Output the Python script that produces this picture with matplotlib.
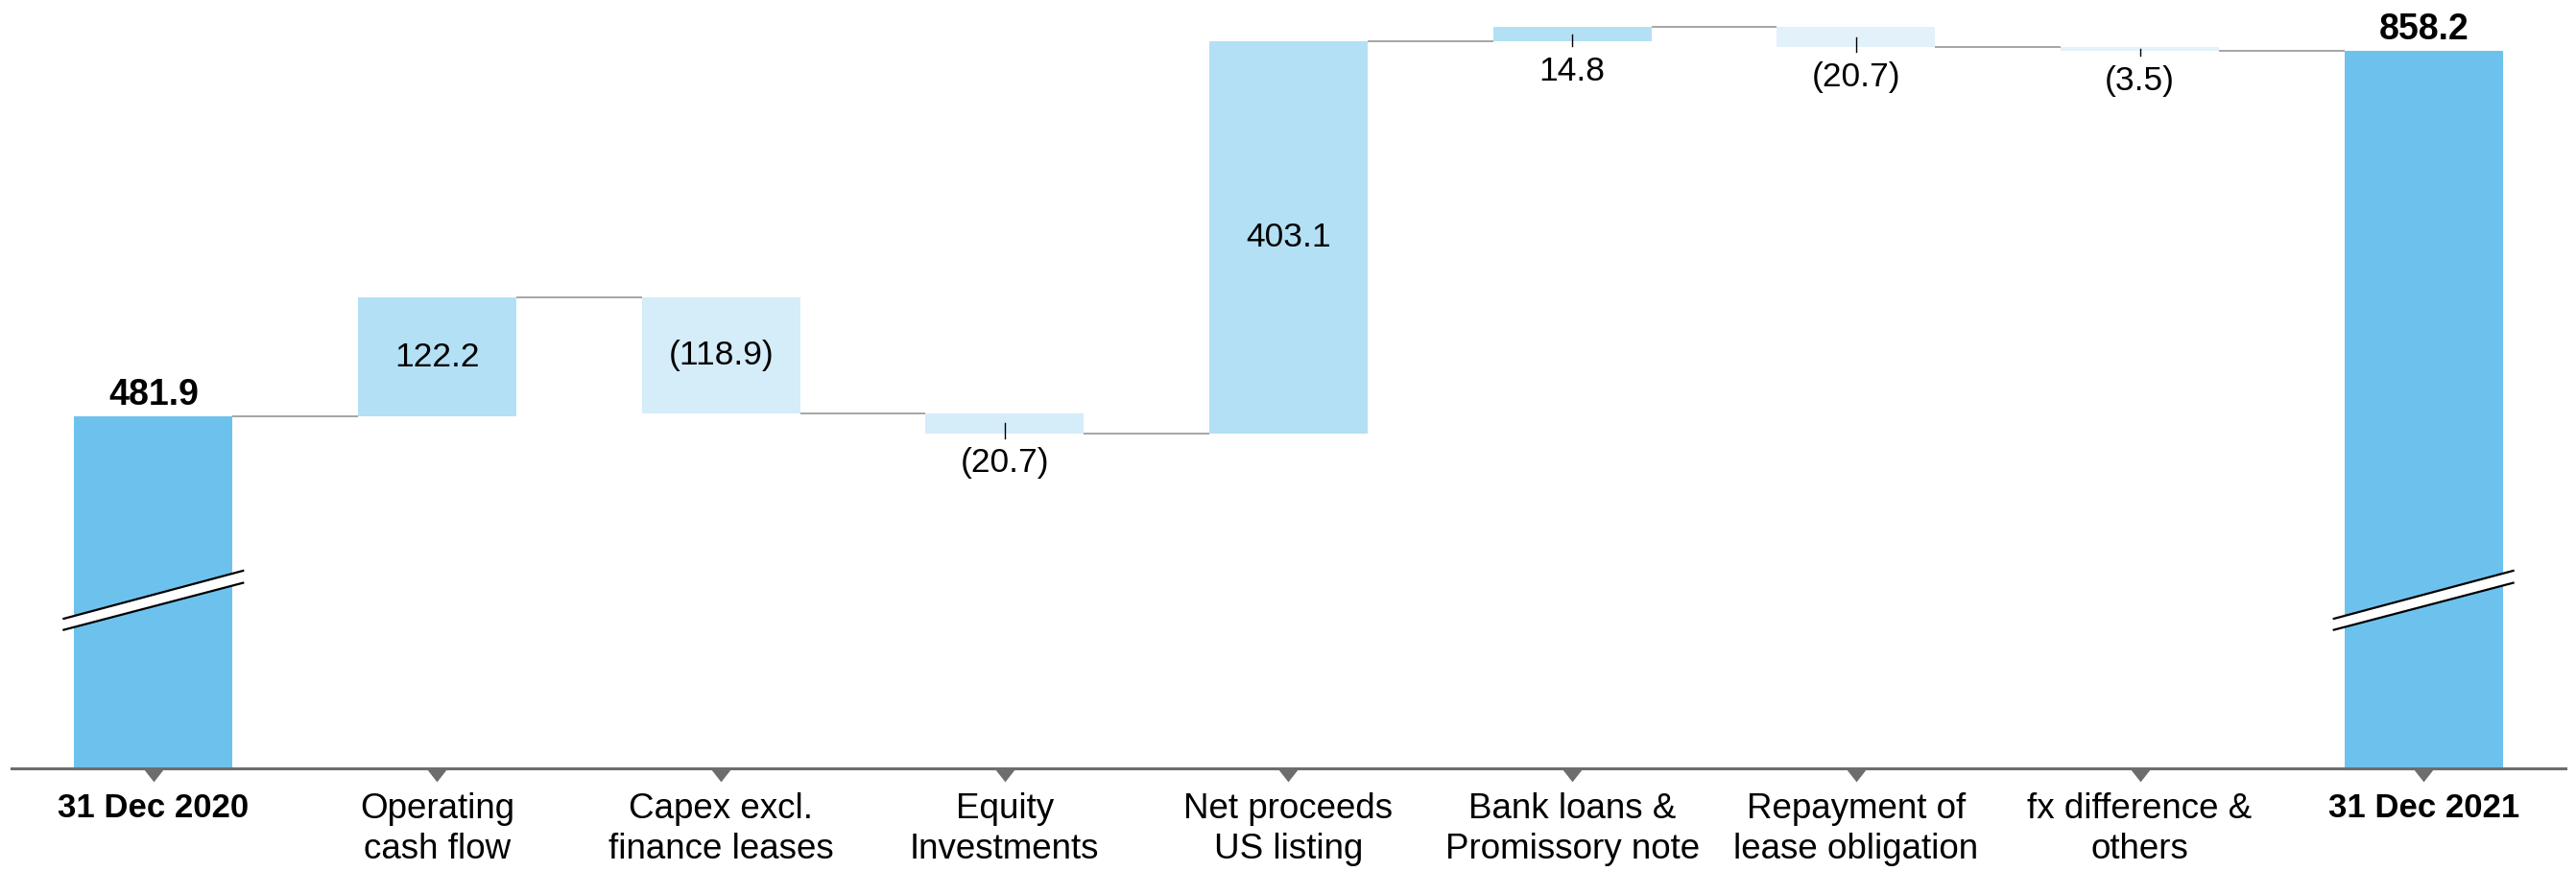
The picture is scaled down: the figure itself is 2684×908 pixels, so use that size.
"""Cash bridge 2020 -> 2021 as a waterfall chart with broken total bars."""

import matplotlib
matplotlib.use('Agg')
import matplotlib.pyplot as plt
import matplotlib.transforms as mtransforms
from matplotlib.patches import Polygon

plt.rcParams['font.family'] = ['Liberation Sans', 'DejaVu Sans']

categories = [
    '31 Dec 2020',
    'Operating\ncash flow',
    'Capex excl.\nfinance leases',
    'Equity\nInvestments',
    'Net proceeds\nUS listing',
    'Bank loans &\nPromissory note',
    'Repayment of\nlease obligation',
    'fx difference &\nothers',
    '31 Dec 2021',
]
opening = 481.9
changes = [122.2, -118.9, -20.7, 403.1, 14.8, -20.7, -3.5]
closing = 858.2

bar_colors = ['#6DC2ED', '#B3E0F5', '#D5ECF9', '#D5ECF9', '#B3E0F5',
              '#B3E0F5', '#E3F1FB', '#E3F1FB', '#6DC2ED']
AXIS_GREY = '#6d6d6d'
WIDTH = 0.558


def fmt(v):
    return f'({abs(v):.1f})' if v < 0 else f'{v:.1f}'


fig = plt.figure(figsize=(26.84, 9.08), dpi=100)
ax = fig.add_axes([12 / 2684, 107 / 908, 2661 / 2684, 801 / 908])
ax.set_xlim(-0.5, 8.5)
ax.set_ylim(119.4, 910.5)

# running levels
levels = [opening]
for c in changes:
    levels.append(levels[-1] + c)

n = len(categories)
bottoms, heights = [0], [opening]
for i, c in enumerate(changes):
    bottoms.append(min(levels[i], levels[i + 1]))
    heights.append(abs(c))
bottoms.append(0)
heights.append(closing)

ax.bar(range(n), heights, bottom=bottoms, width=WIDTH, color=bar_colors,
       edgecolor='none', zorder=2)

# connectors between consecutive bars
for i in range(n - 1):
    lvl = levels[i]
    ax.plot([i + WIDTH / 2, i + 1 - WIDTH / 2], [lvl, lvl],
            color='#a5a5a5', lw=1.4, zorder=1, solid_capstyle='butt')

# totals: bold labels above
for i, v in [(0, opening), (n - 1, closing)]:
    ax.annotate(f'{v:.1f}', xy=(i, v), xytext=(0, 8.6), textcoords='offset points',
                ha='center', va='baseline', fontsize=27, fontweight='bold')

# change labels: inside big bars, below small ones with a short tick
for k, c in enumerate(changes):
    i = k + 1
    lo, hi = bottoms[i], bottoms[i] + heights[i]
    if abs(c) > 50:
        ax.text(i, (lo + hi) / 2, fmt(c), ha='center', va='center',
                fontsize=25.5, zorder=3)
    else:
        ax.plot([i, i], [(lo + hi) / 2, lo - 5], color='black', lw=1.0, zorder=3)
        ax.annotate(fmt(c), xy=(i, lo), xytext=(0, -29.3), textcoords='offset points',
                    ha='center', va='baseline', fontsize=25.5)

# axis break marks on the total bars
for i in (0, n - 1):
    x0, x1 = i - 0.316, i + 0.316
    band = Polygon([(x0, 262.0), (x1, 310.4), (x1, 322.9), (x0, 273.5)],
                   closed=True, facecolor='white', edgecolor='none', zorder=4)
    ax.add_patch(band)
    ax.plot([x0, x1], [273.5, 322.9], color='black', lw=1.6, zorder=5)
    ax.plot([x0, x1], [262.0, 310.4], color='black', lw=1.6, zorder=5)

# axis
for s in ('top', 'right', 'left'):
    ax.spines[s].set_visible(False)
ax.spines['bottom'].set_color(AXIS_GREY)
ax.spines['bottom'].set_linewidth(2.2)
ax.spines['bottom'].set_zorder(6)
ax.set_yticks([])
ax.set_xticks(range(n))
ax.set_xticklabels(categories, fontsize=26.5, linespacing=1.27)
ax.tick_params(axis='x', length=0, pad=18)
for i in (0, n - 1):
    lbl = ax.get_xticklabels()[i]
    lbl.set_fontweight('bold')
    lbl.set_fontsize(25)

# triangular tick pointers under the axis
trans = mtransforms.blended_transform_factory(ax.transData, ax.transAxes)
ax.plot(range(n), [0] * n, transform=trans, ls='none',
        marker=[(-11, 0), (11, 0), (0, -14)], ms=20, color=AXIS_GREY,
        mec='none', clip_on=False, zorder=6)

fig.savefig('out.png', dpi=100)
plt.close(fig)
